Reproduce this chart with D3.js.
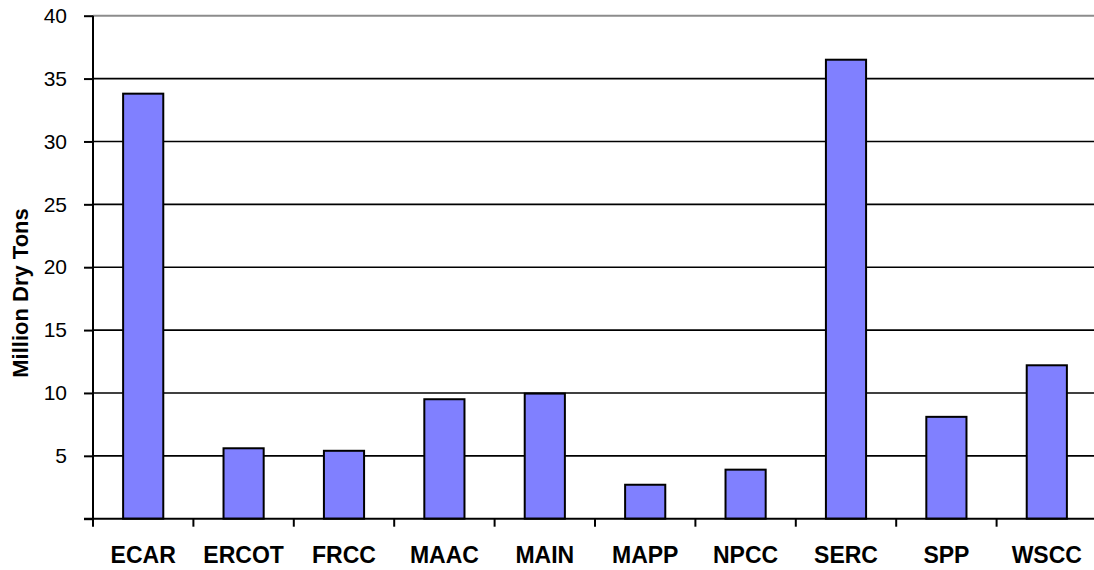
<!DOCTYPE html>
<html><head><meta charset="utf-8">
<script src="https://cdn.jsdelivr.net/npm/d3@7"></script>
<style>html,body{margin:0;padding:0;background:#fff;}svg{display:block;font-family:"Liberation Sans",Arial,sans-serif;}</style>
</head><body>
<svg id="c" width="1094" height="570"></svg>
<script>
const categories = ["ECAR","ERCOT","FRCC","MAAC","MAIN","MAPP","NPCC","SERC","SPP","WSCC"];
const values = [33.8, 5.6, 5.4, 9.5, 9.95, 2.7, 3.9, 36.5, 8.1, 12.2];
const yTicks = [5,10,15,20,25,30,35,40];
const yTitle = "Million Dry Tons";

(function(){
const svg = d3.select("#c");
const pLeft = 93, pRight = 1097, pTop = 15.7, pBottom = 518.7;
const x = d3.scaleBand().domain(categories).range([pLeft, pRight]).paddingInner(0.6).paddingOuter(0.3);
const y = d3.scaleLinear().domain([0,40]).range([pBottom, pTop]);
const step = x.step();

// gridlines
svg.append("g").selectAll("line").data(yTicks).join("line")
  .attr("x1", pLeft).attr("x2", 1094)
  .attr("y1", d=>y(d)).attr("y2", d=>y(d))
  .attr("stroke", d=> d===40 ? "#8c8c8c" : "#000")
  .attr("stroke-width", d=> d===40 ? 2 : 1.6);

// bars
svg.append("g").selectAll("rect").data(categories).join("rect")
  .attr("x", d=>x(d)).attr("width", x.bandwidth())
  .attr("y", (d,i)=>y(values[i])).attr("height", (d,i)=>y(0)-y(values[i]))
  .attr("fill", "#8080ff").attr("stroke", "#000").attr("stroke-width", 2);

// y axis
const yAxis = d3.axisLeft(y).tickValues([0].concat(yTicks)).tickSize(9).tickPadding(17)
  .tickFormat(d=> d===0 ? "" : d);
const gy = svg.append("g").attr("transform", `translate(${pLeft},0)`).call(yAxis);
gy.select(".domain").remove();
gy.selectAll(".tick line").attr("stroke", "#000").attr("stroke-width", 2);
gy.selectAll(".tick text").attr("font-size", 21).attr("fill", "#000").attr("font-family","'Liberation Sans',Arial,sans-serif");
svg.append("line").attr("x1", pLeft).attr("x2", pLeft).attr("y1", y(40)).attr("y2", y(0)+1)
  .attr("stroke", "#000").attr("stroke-width", 2);

// x axis
svg.append("line").attr("x1", pLeft-9).attr("x2", 1094).attr("y1", y(0)).attr("y2", y(0))
  .attr("stroke", "#000").attr("stroke-width", 2);
const bounds = d3.range(categories.length+1).map(i => pLeft + i*step);
svg.append("g").selectAll("line").data(bounds).join("line")
  .attr("x1", d=>d).attr("x2", d=>d).attr("y1", y(0)).attr("y2", y(0)+8)
  .attr("stroke", "#000").attr("stroke-width", 2);
svg.append("g").selectAll("text").data(categories).join("text")
  .attr("x", d=>x(d)+x.bandwidth()/2).attr("y", 563)
  .attr("text-anchor", "middle").attr("font-size", 23).attr("font-weight", "bold")
  .text(d=>d);

// y title
svg.append("text").attr("transform", "translate(28,293) rotate(-90)")
  .attr("text-anchor", "middle").attr("font-size", 22).attr("font-weight", "bold")
  .text(yTitle);
})();
</script>
</body></html>
